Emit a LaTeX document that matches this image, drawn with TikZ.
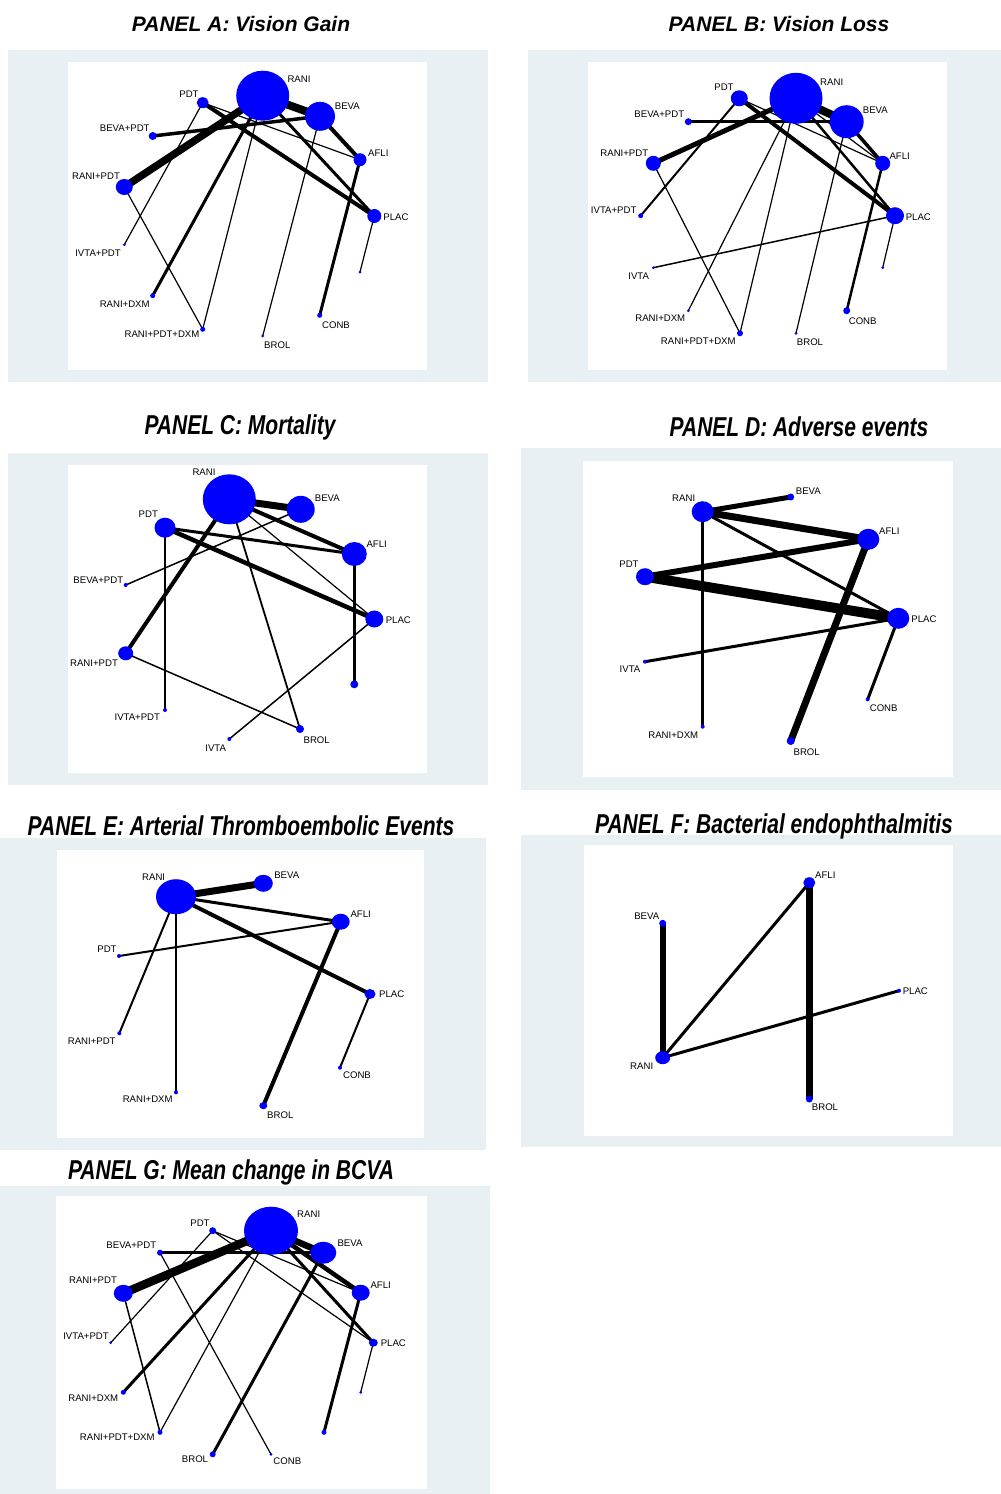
\documentclass[tikz,border=0pt]{standalone}
\usepackage{fontspec}
\setmainfont{Liberation Sans}
\usetikzlibrary{shapes.geometric}
\definecolor{panelgray}{RGB}{232,240,243}
\definecolor{nodeblue}{RGB}{0,0,255}
\pgfdeclarelayer{back}
\pgfdeclarelayer{edge}
\pgfsetlayers{back,edge,main}
\newcommand\nd[5]{\node[nd, minimum width=#4pt, minimum height=#5pt] (#1) at (#2,#3) {};}
\newcommand\lb[4]{\node[lab] (#1) at (#2,#3) {#4};}
\newcommand\ed[3]{\draw[line width=#3pt] (#1.center) -- (#2.center);}
\newcommand\panelbg[8]{%
  \begin{pgfonlayer}{back}
  \fill[panelgray] (#1,#2) rectangle (#3,#4);
  \fill[white] (#5,#6) rectangle (#7,#8);
  \end{pgfonlayer}}
\tikzset{
  nd/.style={ellipse, fill=nodeblue, draw=none, inner sep=0pt},
  lab/.style={inner sep=0pt, font=\fontsize{9.6}{11}\selectfont},
  ttl/.style={inner sep=0pt, font=\fontsize{21}{24}\selectfont\bfseries\itshape}
}
\begin{document}
\begin{tikzpicture}[x=1pt,y=-1pt]
\useasboundingbox (0,0) rectangle (1001,1494);
\begin{pgfonlayer}{back}
\fill[white] (0,0) rectangle (1001,1494);
\end{pgfonlayer}

% ---------------- titles ----------------
\node[ttl] (tA) at (241,24) {PANEL A: Vision Gain};
\node[ttl] (tB) at (779,24) {PANEL B: Vision Loss};
\node[ttl] (tC) at (240,427) {\scalebox{1}[1.3]{PANEL C: Mortality}};
\node[ttl] (tD) at (799,427) {\scalebox{1}[1.3]{PANEL D: Adverse events}};
\node[ttl] (tE) at (241,826) {\scalebox{1}[1.3]{PANEL E: Arterial Thromboembolic Events}};
\node[ttl] (tF) at (774,826) {\scalebox{1}[1.3]{PANEL F: Bacterial endophthalmitis}};
\node[ttl] (tG) at (231,1172) {\scalebox{1}[1.3]{PANEL G: Mean change in BCVA}};

% ---------------- backgrounds ----------------
\panelbg{8}{50}{488}{382}{68}{62}{427}{370}
\panelbg{528}{50}{1001}{382}{588}{62}{947}{370}
\panelbg{8}{453}{488}{785}{68}{465}{427}{773}
\panelbg{521}{448}{1001}{790}{583}{461}{953}{777}
\panelbg{0}{838}{486}{1150}{57}{850}{424}{1138}
\panelbg{521}{835}{1001}{1147}{584}{845}{953}{1136}
\panelbg{0}{1186}{490}{1494}{56}{1196}{427}{1489}

% ================= PANEL A =================
\nd{aRANI}{262.7}{95.7}{53}{50}
\nd{aBEVA}{320}{116.3}{30}{29}
\nd{aPDT}{202.7}{102.7}{12}{11}
\nd{aBP}{152.7}{136}{8}{8}
\nd{aAFLI}{360}{159.7}{13}{13}
\nd{aRP}{124.3}{187}{17}{16}
\nd{aPLAC}{374.3}{216}{14}{14}
\nd{aIP}{124.3}{244.7}{3}{3}
\nd{aU}{360}{272}{3}{3}
\nd{aRD}{152.7}{295.7}{5}{5}
\nd{aCONB}{319.7}{315.3}{5}{5}
\nd{aRPD}{202.7}{329.3}{5}{5}
\nd{aBROL}{262.7}{336}{3}{3}
\lb{aRANIt}{299}{79.5}{RANI}
\lb{aBEVAt}{347.3}{106}{BEVA}
\lb{aPDTt}{189}{93.7}{PDT}
\lb{aBPt}{124.7}{128.3}{BEVA+PDT}
\lb{aAFLIt}{378.3}{152.7}{AFLI}
\lb{aRPt}{96}{175.7}{RANI+PDT}
\lb{aPLACt}{396}{217}{PLAC}
\lb{aIPt}{98}{252.7}{IVTA+PDT}
\lb{aRDt}{124.7}{304}{RANI+DXM}
\lb{aCONBt}{336}{325}{CONB}
\lb{aRPDt}{162}{334}{RANI+PDT+DXM}
\lb{aBROLt}{277.3}{345}{BROL}
\begin{pgfonlayer}{edge}
\ed{aRANI}{aBEVA}{8}
\ed{aRANI}{aRP}{7.5}
\ed{aBEVA}{aAFLI}{4}
\ed{aPDT}{aPLAC}{4}
\ed{aPDT}{aAFLI}{1.2}
\ed{aRANI}{aPLAC}{3}
\ed{aBP}{aBEVA}{3.5}
\ed{aPDT}{aIP}{1.2}
\ed{aRANI}{aRD}{3}
\ed{aRANI}{aRPD}{1.2}
\ed{aRP}{aRPD}{1.2}
\ed{aBEVA}{aBROL}{1.2}
\ed{aAFLI}{aCONB}{3}
\ed{aPLAC}{aU}{1.2}
\end{pgfonlayer}

% ================= PANEL B =================
\nd{bRANI}{796}{98.3}{53}{51}
\nd{bBEVA}{846.7}{121.7}{34}{33}
\nd{bPDT}{739.3}{98.3}{17}{16}
\nd{bBP}{688.3}{121.7}{7}{7}
\nd{bRP}{653.3}{163.3}{15}{15}
\nd{bAFLI}{882.7}{163.3}{15}{15}
\nd{bPLAC}{895}{215.7}{18}{17}
\nd{bIP}{640.7}{215.7}{5}{5}
\nd{bIVTA}{653.3}{267.7}{3}{3}
\nd{bU}{882.7}{267.7}{3}{3}
\nd{bRD}{688.3}{310.7}{3}{3}
\nd{bCONB}{846.7}{310.7}{7}{7}
\nd{bRPD}{740}{333.3}{6}{6}
\nd{bBROL}{796}{333.3}{3}{3}
\lb{bRANIt}{831.7}{82.3}{RANI}
\lb{bBEVAt}{875.3}{110.3}{BEVA}
\lb{bPDTt}{724}{86.7}{PDT}
\lb{bBPt}{659.3}{114.3}{BEVA+PDT}
\lb{bRPt}{624.3}{152.7}{RANI+PDT}
\lb{bAFLIt}{899.7}{156}{AFLI}
\lb{bPLACt}{918.3}{216.7}{PLAC}
\lb{bIPt}{613.7}{210}{IVTA+PDT}
\lb{bIVTAt}{638.7}{275.7}{IVTA}
\lb{bRDt}{660.3}{318.3}{RANI+DXM}
\lb{bCONBt}{862.7}{320.7}{CONB}
\lb{bRPDt}{698.3}{341}{RANI+PDT+DXM}
\lb{bBROLt}{810}{342.3}{BROL}
\begin{pgfonlayer}{edge}
\ed{bRANI}{bBEVA}{8}
\ed{bRANI}{bRP}{5}
\ed{bBP}{bBEVA}{3}
\ed{bPDT}{bPLAC}{4}
\ed{bPDT}{bAFLI}{1.2}
\ed{bBEVA}{bAFLI}{3.5}
\ed{bRANI}{bAFLI}{1.2}
\ed{bRANI}{bPLAC}{2.5}
\ed{bPDT}{bIP}{2}
\ed{bRANI}{bRD}{1.2}
\ed{bRANI}{bRPD}{1.2}
\ed{bRP}{bRPD}{1.2}
\ed{bBEVA}{bBROL}{1.2}
\ed{bAFLI}{bCONB}{2.5}
\ed{bPLAC}{bIVTA}{1.5}
\ed{bPLAC}{bU}{1.2}
\end{pgfonlayer}

% ================= PANEL C =================
\nd{cRANI}{229.3}{499.3}{53}{50}
\nd{cBEVA}{300.7}{509.3}{28}{27}
\nd{cPDT}{165}{527.7}{21}{20}
\nd{cAFLI}{354.3}{554}{25}{24}
\nd{cBP}{125.7}{585}{4}{4}
\nd{cPLAC}{374.3}{619}{18}{17}
\nd{cRP}{125.7}{653.3}{15}{14}
\nd{cU}{354.3}{684.3}{8}{8}
\nd{cIP}{165}{710}{4}{4}
\nd{cBROL}{300}{729}{8}{8}
\nd{cIVTA}{229.3}{739}{4}{4}
\lb{cRANIt}{204}{472.3}{RANI}
\lb{cBEVAt}{327.3}{498.3}{BEVA}
\lb{cPDTt}{148.3}{514.3}{PDT}
\lb{cAFLIt}{376.7}{544.3}{AFLI}
\lb{cBPt}{98.3}{579.7}{BEVA+PDT}
\lb{cPLACt}{398.3}{619.7}{PLAC}
\lb{cRPt}{94}{663.3}{RANI+PDT}
\lb{cIPt}{137.3}{717.3}{IVTA+PDT}
\lb{cBROLt}{316.7}{740}{BROL}
\lb{cIVTAt}{215.7}{747.7}{IVTA}
\begin{pgfonlayer}{edge}
\ed{cRANI}{cBEVA}{7}
\ed{cRANI}{cAFLI}{4}
\ed{cPDT}{cAFLI}{3}
\ed{cPDT}{cPLAC}{4.5}
\ed{cRANI}{cPLAC}{1.2}
\ed{cRANI}{cRP}{4}
\ed{cBEVA}{cBP}{1.5}
\ed{cPDT}{cIP}{2}
\ed{cRANI}{cBROL}{1.8}
\ed{cRP}{cBROL}{1.5}
\ed{cPLAC}{cIVTA}{1.5}
\ed{cAFLI}{cU}{3}
\end{pgfonlayer}

% ================= PANEL D =================
\nd{dRANI}{702.7}{511.7}{22}{21}
\nd{dBEVA}{790.7}{497}{7}{7}
\nd{dAFLI}{868.3}{539.3}{22}{21}
\nd{dPDT}{645}{576.7}{18}{17}
\nd{dPLAC}{898.3}{618.3}{22}{21}
\nd{dIVTA}{645}{661.7}{4}{4}
\nd{dCONB}{867.7}{699.3}{4}{4}
\nd{dRD}{702.7}{726.7}{4}{4}
\nd{dBROL}{790.7}{741}{8}{8}
\lb{dRANIt}{683.7}{497.7}{RANI}
\lb{dBEVAt}{808.3}{490.7}{BEVA}
\lb{dAFLIt}{889.3}{530.7}{AFLI}
\lb{dPDTt}{629}{564.3}{PDT}
\lb{dPLACt}{924}{619}{PLAC}
\lb{dIVTAt}{630}{669.3}{IVTA}
\lb{dCONBt}{883.7}{708.3}{CONB}
\lb{dRDt}{673.3}{735}{RANI+DXM}
\lb{dBROLt}{806.7}{752.3}{BROL}
\begin{pgfonlayer}{edge}
\ed{dRANI}{dBEVA}{5}
\ed{dRANI}{dAFLI}{7}
\ed{dRANI}{dPLAC}{3}
\ed{dRANI}{dRD}{3}
\ed{dPDT}{dAFLI}{6}
\ed{dPDT}{dPLAC}{10}
\ed{dAFLI}{dBROL}{7}
\ed{dPLAC}{dIVTA}{3}
\ed{dPLAC}{dCONB}{3}
\end{pgfonlayer}

% ================= PANEL E =================
\nd{eRANI}{176}{896.7}{40}{35}
\nd{eBEVA}{263.3}{883.3}{19}{17}
\nd{eAFLI}{340.7}{921.7}{18}{16}
\nd{ePDT}{119}{956}{4}{4}
\nd{ePLAC}{370}{994}{11}{10}
\nd{eRP}{119.3}{1033.3}{4}{4}
\nd{eCONB}{340}{1067.7}{4}{4}
\nd{eRD}{176}{1092.3}{4}{4}
\nd{eBROL}{263.3}{1105.7}{8}{7}
\lb{eRANIt}{153.7}{876.7}{RANI}
\lb{eBEVAt}{286.7}{875}{BEVA}
\lb{eAFLIt}{360.7}{914}{AFLI}
\lb{ePDTt}{107}{949.3}{PDT}
\lb{ePLACt}{391.7}{994.3}{PLAC}
\lb{eRPt}{91.7}{1040.7}{RANI+PDT}
\lb{eCONBt}{357}{1075}{CONB}
\lb{eRDt}{147.7}{1099}{RANI+DXM}
\lb{eBROLt}{280.3}{1115}{BROL}
\begin{pgfonlayer}{edge}
\ed{eRANI}{eBEVA}{7}
\ed{eRANI}{eAFLI}{3}
\ed{eRANI}{ePLAC}{4}
\ed{eRANI}{eRP}{2}
\ed{eRANI}{eRD}{2}
\ed{eAFLI}{ePDT}{2}
\ed{eAFLI}{eBROL}{4}
\ed{ePLAC}{eCONB}{2}
\end{pgfonlayer}

% ================= PANEL F =================
\nd{fAFLI}{809.3}{882.7}{12}{11}
\nd{fBEVA}{662.7}{923.3}{7}{7}
\nd{fPLAC}{899}{990.7}{4}{4}
\nd{fRANI}{662.7}{1057.7}{15}{13}
\nd{fBROL}{809.3}{1099}{7}{7}
\lb{fAFLIt}{825.3}{875}{AFLI}
\lb{fBEVAt}{646.7}{916}{BEVA}
\lb{fPLACt}{915.3}{990.7}{PLAC}
\lb{fRANIt}{641.7}{1065.7}{RANI}
\lb{fBROLt}{825}{1107.3}{BROL}
\begin{pgfonlayer}{edge}
\ed{fBEVA}{fRANI}{6}
\ed{fAFLI}{fBROL}{6.5}
\ed{fRANI}{fAFLI}{3}
\ed{fRANI}{fPLAC}{3}
\end{pgfonlayer}

% ================= PANEL G =================
\nd{gRANI}{271}{1230.7}{54}{48}
\nd{gBEVA}{323.3}{1252.7}{26}{22}
\nd{gPDT}{212.7}{1230.7}{7}{7}
\nd{gBP}{160}{1252.7}{6}{6}
\nd{gRP}{123.3}{1293.3}{19}{17}
\nd{gAFLI}{360.7}{1292.7}{18}{16}
\nd{gPLAC}{373.3}{1342.7}{9}{8}
\nd{gIP}{110.7}{1342.7}{3}{3}
\nd{gU}{360.7}{1392.3}{3}{3}
\nd{gRD}{123.3}{1392.3}{5}{5}
\nd{gUb}{324}{1432.3}{5}{5}
\nd{gRPD}{160}{1432.3}{5}{5}
\nd{gBROL}{212.7}{1454.3}{6}{6}
\nd{gCONB}{271}{1454.3}{3}{3}
\lb{gRANIt}{308.7}{1214.3}{RANI}
\lb{gBEVAt}{350}{1243.3}{BEVA}
\lb{gPDTt}{200}{1222.7}{PDT}
\lb{gBPt}{131.3}{1245}{BEVA+PDT}
\lb{gRPt}{93}{1280}{RANI+PDT}
\lb{gAFLIt}{380.7}{1285}{AFLI}
\lb{gPLACt}{393.3}{1342.7}{PLAC}
\lb{gIPt}{86}{1336}{IVTA+PDT}
\lb{gRDt}{93.3}{1398.3}{RANI+DXM}
\lb{gRPDt}{117.3}{1437.3}{RANI+PDT+DXM}
\lb{gBROLt}{195}{1459.3}{BROL}
\lb{gCONBt}{287.3}{1460.7}{CONB}
\begin{pgfonlayer}{edge}
\ed{gRANI}{gRP}{8.5}
\ed{gRANI}{gBEVA}{6.5}
\ed{gRANI}{gAFLI}{4.5}
\ed{gBP}{gBEVA}{3}
\ed{gPDT}{gIP}{1.2}
\ed{gPDT}{gPLAC}{1.2}
\ed{gPDT}{gAFLI}{1.2}
\ed{gRANI}{gPLAC}{3}
\ed{gRANI}{gRD}{3}
\ed{gRANI}{gRPD}{1.2}
\ed{gRP}{gRPD}{1.5}
\ed{gBP}{gCONB}{1.2}
\ed{gBEVA}{gBROL}{3}
\ed{gAFLI}{gUb}{3}
\ed{gPLAC}{gU}{1.2}
\end{pgfonlayer}
\end{tikzpicture}
\end{document}
